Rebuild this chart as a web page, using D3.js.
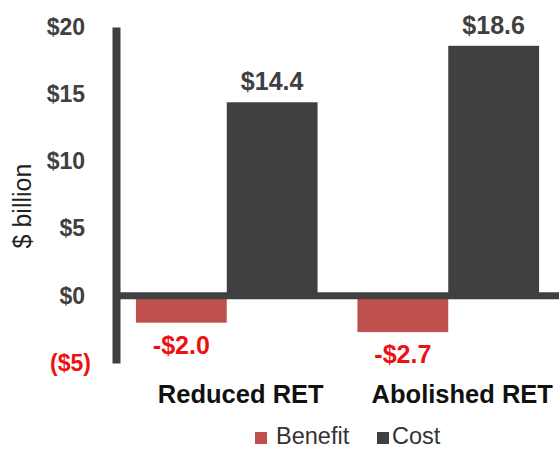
<!DOCTYPE html>
<html>
<head>
<meta charset="utf-8">
<script src="https://cdn.jsdelivr.net/npm/d3@7"></script>
<style>
    body { margin: 0; background: #fff; }
    text { font-family: "Liberation Sans", Arial, sans-serif; }
</style>
</head>
<body>
<div id="chart"></div>
<script>
// данные
const categories = ["Reduced RET", "Abolished RET"];
const seriesNames = ["Benefit", "Cost"];
const benefitValues = [-2.0, -2.7];
const costValues = [14.4, 18.6];
const yTicks = [-5, 0, 5, 10, 15, 20];

const colors = { Benefit: "#c0504d", Cost: "#404040" };

const W = 559, H = 449;

const svg = d3.select("#chart")
    .append("svg")
    .attr("width", W)
    .attr("height", H);

const rows = categories.map((c, i) => ({
    category: c,
    values: [
        { key: "Benefit", value: benefitValues[i] },
        { key: "Cost", value: costValues[i] }
    ]
}));

// шкалы
const x0 = d3.scaleBand()
    .domain(categories)
    .range([116, 559])
    .paddingInner(0.18)
    .paddingOuter(0.09);

const x1 = d3.scaleBand()
    .domain(seriesNames)
    .range([0, x0.bandwidth()])
    .padding(0);

const y = d3.scaleLinear()
    .domain([-5, 20])
    .range([363, 27]);

// бары
const groups = svg.append("g")
    .selectAll("g")
    .data(rows)
    .join("g")
    .attr("transform", d => `translate(${x0(d.category)},0)`);

groups.selectAll("rect")
    .data(d => d.values)
    .join("rect")
    .attr("x", d => x1(d.key))
    .attr("width", x1.bandwidth())
    .attr("y", d => y(Math.max(0, d.value)))
    .attr("height", d => Math.abs(y(d.value) - y(0)))
    .attr("fill", d => colors[d.key]);

// подписи значений
groups.selectAll("text.val")
    .data(d => d.values)
    .join("text")
    .attr("class", "val")
    .attr("x", d => x1(d.key) + x1.bandwidth() / 2)
    .attr("y", d => d.value >= 0 ? y(d.value) - 12 : y(d.value) + 31)
    .attr("text-anchor", "middle")
    .style("font-size", "25px")
    .style("font-weight", "bold")
    .style("fill", d => d.value >= 0 ? "#404040" : "#ee1111")
    .text(d => (d.value < 0 ? "-$" : "$") + Math.abs(d.value).toFixed(1));

// ось Y
const yAxis = svg.append("g")
    .attr("transform", "translate(116,0)")
    .call(d3.axisLeft(y)
        .tickValues(yTicks)
        .tickSize(0)
        .tickPadding(25)
        .tickFormat(d => d < 0 ? `($${-d})` : `$${d}`));

yAxis.select(".domain")
    .attr("stroke", "#404040")
    .attr("stroke-width", 8);

yAxis.selectAll(".tick text")
    .attr("x", d => d < 0 ? -25 : -31)
    .style("font-size", "23px")
    .style("font-weight", "bold")
    .style("font-family", "'Liberation Sans', Arial, sans-serif")
    .style("fill", d => d < 0 ? "#ee1111" : "#404040");

// нулевая линия
svg.append("line")
    .attr("x1", 116)
    .attr("x2", W)
    .attr("y1", y(0))
    .attr("y2", y(0))
    .attr("stroke", "#404040")
    .attr("stroke-width", 7);

// подписи категорий
svg.append("g")
    .selectAll("text")
    .data(categories)
    .join("text")
    .attr("x", d => x0(d) + x0.bandwidth() / 2 + 14)
    .attr("y", 403)
    .attr("text-anchor", "middle")
    .style("font-size", "25.5px")
    .style("font-weight", "bold")
    .style("fill", "#111")
    .text(d => d);

// заголовок оси
svg.append("text")
    .attr("transform", "translate(31,206) rotate(-90)")
    .attr("text-anchor", "middle")
    .style("font-size", "25px")
    .style("fill", "#222")
    .text("$ billion");

// легенда
const legendX = [255, 377];
const legend = svg.append("g")
    .selectAll("g")
    .data(seriesNames)
    .join("g")
    .attr("transform", (d, i) => `translate(${legendX[i]},432)`);

legend.append("rect")
    .attr("width", 12)
    .attr("height", 12)
    .attr("fill", d => colors[d]);

legend.append("text")
    .attr("x", (d, i) => i === 0 ? 21 : 15)
    .attr("y", 12)
    .style("font-size", "23.5px")
    .style("fill", "#333")
    .text(d => d);
</script>
</body>
</html>
